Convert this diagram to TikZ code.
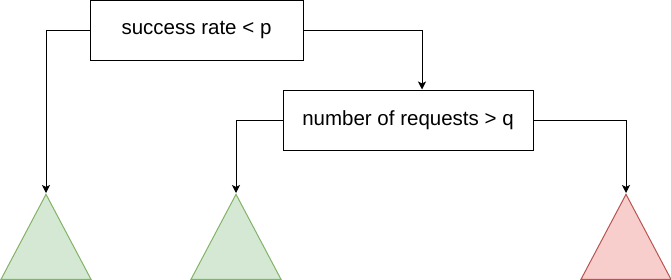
\documentclass[tikz,border=0pt]{standalone}
\usepackage{fontspec}
\setmainfont{Liberation Sans}
\usetikzlibrary{arrows.meta,shapes.geometric,calc}
\definecolor{okfill}{HTML}{D5E8D4}
\definecolor{okedge}{HTML}{82B366}
\definecolor{badfill}{HTML}{F8CECC}
\definecolor{badedge}{HTML}{B85450}
\tikzset{
  test/.style={
    draw=black, line width=1pt, fill=white, align=center,
    inner sep=0pt, minimum height=60pt,
    font=\fontsize{20.5}{24}\selectfont
  },
  leaf/.style={
    isosceles triangle, isosceles triangle stretches, shape border rotate=90,
    inner sep=0pt, minimum width=90pt, minimum height=85pt,
    line width=1pt, anchor=apex
  },
  okleaf/.style={leaf, draw=okedge, fill=okfill},
  badleaf/.style={leaf, draw=badedge, fill=badfill},
  arr/.style={-{Stealth[length=8pt,width=8pt,inset=2pt]}, draw=black, line width=1pt}
}
\begin{document}
\begin{tikzpicture}[x=1pt,y=-1pt]
  \useasboundingbox (0,0) rectangle (671,279);
  \node[test, minimum width=213pt] (rate) at (196.5,30) {success rate < p};
  \node[test, minimum width=250pt] (reqs) at (408,120) {number of requests > q};
  \node[okleaf] (okA) at (46,193) {};
  \node[okleaf] (okB) at (236,193) {};
  \node[badleaf] (bad) at (626,193) {};
  \draw[arr] (rate.west) -| (okA.apex);
  \draw[arr] (rate.east) -| ($(reqs.north)+(14,0)$);
  \draw[arr] (reqs.west) -| (okB.apex);
  \draw[arr] (reqs.east) -| (bad.apex);
\end{tikzpicture}
\end{document}
